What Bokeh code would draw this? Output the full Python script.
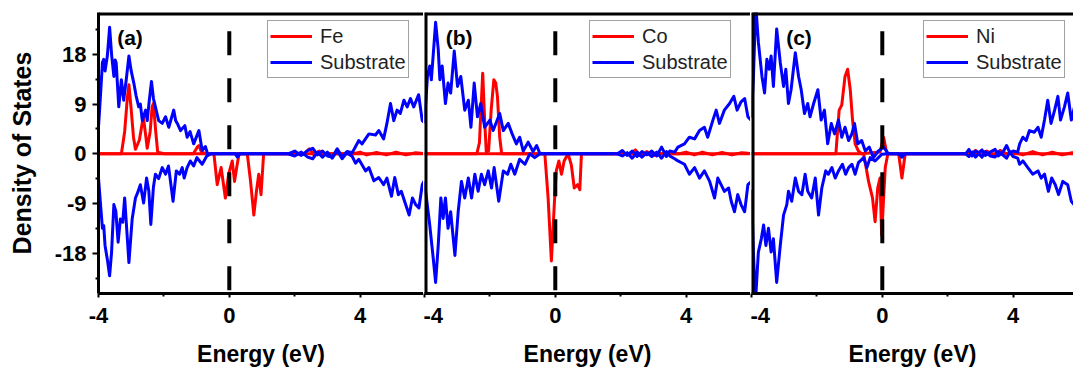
from bokeh.plotting import figure
from bokeh.layouts import row
from bokeh.models import FixedTicker, Legend, LegendItem, Span, Label, Range1d
from bokeh.embed import file_html
from bokeh.resources import INLINE

# ---------------- data (energy in eV, density of states) ----------------
energy_ticks = [-4, 0, 4]
energy_minor = [-2, 2]
dos_ticks = [-18, -9, 0, 9, 18]
dos_minor = [-22.5, -13.5, -4.5, 4.5, 13.5, 22.5]
metals = ["Fe", "Co", "Ni"]
panel_tags = ["(a)", "(b)", "(c)"]
fermi_level = 0.0

# Panel (a): Fe
sub_a_up = [(-4.00, 4.8), (-3.94, 10.5), (-3.88, 16.5), (-3.84, 17.1), (-3.80, 15.0), (-3.73, 17.7), (-3.66, 22.9),
            (-3.60, 18.0), (-3.53, 14.0), (-3.49, 17.0), (-3.46, 16.5), (-3.38, 8.5), (-3.30, 13.4), (-3.23, 9.7),
            (-3.15, 13.5), (-3.07, 17.7), (-3.00, 15.0), (-2.92, 12.8), (-2.85, 10.5), (-2.77, 8.5), (-2.72, 9.0),
            (-2.66, 6.0), (-2.56, 7.9), (-2.51, 6.0), (-2.45, 9.5), (-2.38, 13.1), (-2.32, 10.0), (-2.26, 8.5),
            (-2.16, 6.0), (-2.05, 5.5), (-1.95, 6.7), (-1.85, 4.8), (-1.70, 7.9), (-1.64, 6.0), (-1.59, 5.5),
            (-1.49, 4.2), (-1.36, 5.1), (-1.29, 3.0), (-1.20, 4.0), (-1.09, 1.8), (-0.93, 4.2), (-0.83, 0.6),
            (-0.73, 1.3), (-0.65, -0.3), (-0.58, 0.0), (1.80, 0.0), (2.00, 0.5), (2.20, -0.3), (2.40, 0.6),
            (2.55, 1.0), (2.70, -0.2), (2.85, 0.5), (3.00, -0.4), (3.15, -0.6), (3.30, 0.9), (3.45, -0.5),
            (3.60, 0.4), (3.76, 0.2), (3.96, 2.4), (4.06, 1.8), (4.27, 3.6), (4.47, 3.4), (4.57, 4.2), (4.72, 2.7),
            (4.82, 5.5), (4.93, 9.1), (5.03, 6.0), (5.13, 7.9), (5.23, 7.3), (5.34, 9.7), (5.44, 8.5), (5.54, 10.0),
            (5.64, 8.5), (5.79, 10.7), (5.90, 6.0), (6.00, 5.5)]
sub_a_dn = [(-4.00, -4.4), (-3.94, -9.0), (-3.88, -13.5), (-3.84, -13.0), (-3.80, -16.6), (-3.72, -19.5),
            (-3.66, -22.1), (-3.60, -17.8), (-3.53, -9.2), (-3.47, -10.4), (-3.40, -16.0), (-3.33, -11.8),
            (-3.26, -12.4), (-3.20, -8.0), (-3.07, -19.7), (-2.97, -11.8), (-2.87, -8.0), (-2.80, -7.0),
            (-2.72, -5.6), (-2.62, -8.9), (-2.53, -4.4), (-2.46, -6.8), (-2.40, -12.8), (-2.32, -6.0),
            (-2.26, -3.7), (-2.16, -4.5), (-2.05, -2.5), (-1.95, -3.7), (-1.86, -2.2), (-1.72, -8.6),
            (-1.62, -3.1), (-1.52, -3.7), (-1.44, -2.5), (-1.38, -4.4), (-1.29, -2.5), (-1.19, -1.3),
            (-1.09, -2.2), (-0.99, -0.7), (-0.83, -1.9), (-0.68, -0.3), (-0.58, 0.0), (0.18, 0.0), (0.25, -0.6),
            (0.32, 0.0), (1.80, 0.0), (2.00, -0.4), (2.20, 0.3), (2.40, -0.6), (2.55, -0.9), (2.70, 0.3),
            (2.85, -0.6), (3.00, 0.3), (3.15, -0.8), (3.30, 0.6), (3.45, -0.9), (3.60, 0.2), (3.76, -0.5),
            (3.86, -1.7), (3.96, -1.0), (4.17, -3.1), (4.27, -2.5), (4.42, -4.9), (4.57, -4.3), (4.72, -5.6),
            (4.82, -4.4), (4.96, -7.7), (5.06, -4.3), (5.17, -7.4), (5.26, -6.8), (5.36, -8.6), (5.50, -11.1),
            (5.60, -8.0), (5.70, -9.2), (5.80, -9.8), (5.90, -5.6), (6.00, -4.5)]
fe_up = [(-4.00, 0.0), (-3.30, 0.0), (-3.20, 4.0), (-3.12, 10.0), (-3.07, 12.5), (-3.00, 8.0), (-2.93, 3.0),
         (-2.87, 0.8), (-2.75, 2.5), (-2.63, 6.7), (-2.56, 3.5), (-2.51, 1.0), (-2.42, 4.0), (-2.36, 8.5),
         (-2.32, 9.1), (-2.25, 4.0), (-2.19, 0.3), (-2.00, 0.0), (-1.10, 0.0), (-0.98, 1.2), (-0.93, 1.5),
         (-0.85, 0.3), (-0.70, 0.0), (2.30, 0.0), (2.45, 0.9), (2.60, -0.3), (2.75, 0.5), (2.90, 0.0),
         (3.80, 0.0), (4.00, 0.3), (4.20, -0.2), (4.50, 0.25), (4.80, -0.2), (5.10, 0.3), (5.40, -0.2),
         (5.70, 0.2), (6.00, 0.0)]
fe_dn = [(-4.00, 0.0), (-0.47, 0.0), (-0.37, -5.6), (-0.25, -2.5), (-0.12, -8.0), (-0.02, -3.7), (0.09, -1.3),
         (0.16, -5.0), (0.24, -2.0), (0.30, 0.0), (0.55, 0.0), (0.65, -5.0), (0.75, -11.1), (0.83, -6.8),
         (0.90, -3.7), (0.97, -7.4), (1.05, 0.0), (6.00, 0.0)]

# Panel (b): Co
sub_b_up = [(-4.00, 5.5), (-3.91, 14.0), (-3.84, 15.9), (-3.79, 13.4), (-3.66, 23.8), (-3.58, 18.9), (-3.53, 13.4),
            (-3.46, 15.9), (-3.36, 9.1), (-3.28, 12.8), (-3.20, 11.0), (-3.09, 18.6), (-2.99, 12.2), (-2.89, 14.0),
            (-2.77, 7.9), (-2.66, 9.7), (-2.58, 4.8), (-2.48, 12.8), (-2.38, 6.7), (-2.28, 9.1), (-2.16, 4.8),
            (-2.00, 6.1), (-1.90, 4.2), (-1.70, 7.3), (-1.59, 4.2), (-1.44, 5.5), (-1.32, 3.6), (-1.19, 1.8),
            (-1.09, 3.0), (-0.98, 0.5), (-0.83, 2.1), (-0.68, 0.4), (-0.57, 1.5), (-0.47, 0.0), (1.90, 0.0),
            (2.05, 0.6), (2.20, -0.3), (2.35, 0.5), (2.50, -0.5), (2.65, 0.4), (2.80, -0.2), (2.95, 0.5),
            (3.10, -0.4), (3.25, 1.2), (3.40, -0.5), (3.50, 0.5), (3.65, 0.3), (3.75, 1.2), (3.95, 1.8),
            (4.10, 3.0), (4.26, 2.7), (4.41, 4.2), (4.56, 4.8), (4.66, 3.0), (4.82, 6.1), (4.92, 7.9), (5.02, 5.5),
            (5.17, 7.9), (5.33, 9.1), (5.46, 10.4), (5.56, 7.9), (5.68, 9.4), (5.79, 10.0), (5.89, 6.7),
            (6.00, 6.0)]
sub_b_dn = [(-4.00, -5.0), (-3.94, -8.0), (-3.84, -12.9), (-3.73, -19.1), (-3.66, -23.3), (-3.58, -16.6),
            (-3.50, -8.0), (-3.43, -11.7), (-3.36, -8.0), (-3.28, -13.5), (-3.20, -10.5), (-3.07, -18.4),
            (-2.97, -10.5), (-2.87, -5.0), (-2.77, -8.0), (-2.66, -4.4), (-2.56, -8.0), (-2.46, -3.7),
            (-2.36, -6.8), (-2.26, -3.7), (-2.16, -5.6), (-2.05, -3.1), (-1.95, -6.2), (-1.87, -2.5),
            (-1.73, -8.6), (-1.59, -3.1), (-1.46, -3.7), (-1.36, -1.9), (-1.24, -3.7), (-1.09, -1.0),
            (-0.93, -1.9), (-0.78, 0.0), (-0.63, -0.7), (-0.47, 0.0), (1.90, 0.0), (2.05, -0.4), (2.20, 0.2),
            (2.35, -0.8), (2.50, 0.3), (2.65, -0.6), (2.80, 0.2), (2.95, -0.5), (3.10, 0.3), (3.25, -0.8),
            (3.40, 0.4), (3.50, -0.4), (3.65, -0.9), (3.75, -1.3), (3.95, -1.9), (4.10, -3.7), (4.26, -2.5),
            (4.41, -4.4), (4.56, -3.1), (4.72, -5.0), (4.87, -8.0), (4.97, -4.4), (5.07, -5.6), (5.17, -6.8),
            (5.30, -6.2), (5.38, -8.6), (5.48, -10.5), (5.58, -7.4), (5.68, -9.2), (5.79, -10.5), (5.89, -5.6),
            (6.00, -5.0)]
co_up = [(-4.00, 0.0), (-2.40, 0.0), (-2.32, 2.0), (-2.22, 14.6), (-2.16, 6.0), (-2.11, 0.3), (-2.04, 0.5),
         (-1.96, 8.0), (-1.88, 13.4), (-1.82, 12.8), (-1.77, 10.4), (-1.70, 3.0), (-1.64, 0.0), (2.30, 0.0),
         (2.45, 0.7), (2.60, -0.3), (2.80, 0.4), (3.00, -0.3), (3.20, 0.0), (3.80, 0.0), (4.00, 0.3),
         (4.25, -0.2), (4.50, 0.3), (4.80, -0.2), (5.10, 0.25), (5.40, -0.2), (5.70, 0.2), (6.00, 0.0)]
co_dn = [(-4.00, 0.0), (-0.32, 0.0), (-0.22, -8.0), (-0.12, -19.4), (-0.02, -8.0), (0.03, -3.1), (0.11, -1.3),
         (0.19, -3.7), (0.27, -1.3), (0.39, 0.0), (0.49, -2.0), (0.58, -6.2), (0.68, -5.6), (0.75, -6.5),
         (0.80, 0.0), (6.00, 0.0)]

# Panel (c): Ni
sub_c_up = [(-4.00, 6.5), (-3.94, 14.0), (-3.87, 27.0), (-3.79, 20.2), (-3.68, 14.0), (-3.60, 11.0), (-3.53, 17.1),
            (-3.46, 15.3), (-3.40, 17.7), (-3.33, 12.2), (-3.23, 22.6), (-3.12, 16.5), (-3.02, 12.2), (-2.95, 15.3),
            (-2.87, 9.1), (-2.79, 11.6), (-2.66, 18.3), (-2.56, 14.0), (-2.48, 11.6), (-2.38, 7.3), (-2.28, 9.1),
            (-2.21, 6.7), (-2.10, 9.1), (-1.97, 11.6), (-1.87, 6.1), (-1.77, 7.9), (-1.67, 1.8), (-1.56, 5.5),
            (-1.46, 3.6), (-1.34, 6.1), (-1.24, 3.0), (-1.14, 4.8), (-1.03, 2.4), (-0.93, 3.6), (-0.85, 5.5),
            (-0.75, 1.8), (-0.63, 2.4), (-0.52, 0.5), (-0.40, 1.2), (-0.27, -0.7), (-0.12, 0.5), (0.04, 1.2),
            (0.19, 0.0), (2.55, 0.0), (2.65, 0.8), (2.75, -0.4), (2.85, 0.5), (2.95, 0.2), (3.05, 0.7),
            (3.15, -0.3), (3.30, 0.3), (3.45, 0.8), (3.55, -0.4), (3.70, 0.4), (3.80, 1.5), (3.90, 0.2),
            (4.00, 0.5), (4.14, 0.3), (4.20, 1.8), (4.30, 3.0), (4.40, 2.4), (4.50, 4.2), (4.65, 3.9), (4.76, 4.8),
            (4.86, 3.0), (4.96, 6.1), (5.06, 9.7), (5.16, 5.5), (5.27, 7.9), (5.37, 10.4), (5.45, 6.1),
            (5.57, 8.5), (5.67, 11.0), (5.78, 6.1), (5.90, 9.0), (6.00, 8.0)]
sub_c_dn = [(-4.00, -6.5), (-3.94, -18.0), (-3.88, -27.0), (-3.79, -17.8), (-3.70, -15.4), (-3.63, -12.9),
            (-3.56, -16.6), (-3.48, -13.5), (-3.40, -17.8), (-3.33, -15.4), (-3.23, -23.3), (-3.12, -16.6),
            (-3.02, -11.1), (-2.92, -9.2), (-2.87, -6.8), (-2.77, -8.6), (-2.66, -4.4), (-2.56, -6.8),
            (-2.46, -7.4), (-2.36, -3.7), (-2.28, -6.8), (-2.16, -8.0), (-2.05, -4.4), (-1.95, -11.1),
            (-1.85, -6.2), (-1.73, -3.1), (-1.65, -3.7), (-1.54, -2.5), (-1.44, -4.4), (-1.34, -3.1),
            (-1.22, -1.9), (-1.12, -3.7), (-1.03, -2.5), (-0.93, -1.9), (-0.83, -3.7), (-0.73, -1.6),
            (-0.57, -0.7), (-0.47, -2.5), (-0.37, -0.7), (-0.22, -1.3), (-0.02, -0.1), (0.19, 0.0), (0.50, 0.0),
            (0.60, -0.6), (0.70, 0.0), (2.55, 0.0), (2.65, -0.5), (2.75, 0.3), (2.85, -0.6), (2.95, 0.0),
            (3.05, -0.6), (3.15, 0.4), (3.30, -0.4), (3.45, -0.6), (3.55, 0.4), (3.70, -0.3), (3.80, -0.8),
            (3.90, 0.3), (4.00, -0.5), (4.14, -0.8), (4.20, -1.9), (4.30, -1.3), (4.45, -2.5), (4.60, -3.7),
            (4.76, -3.1), (4.86, -4.4), (4.96, -3.7), (5.08, -6.8), (5.18, -4.4), (5.29, -5.6), (5.39, -7.4),
            (5.52, -5.0), (5.67, -5.6), (5.78, -8.6), (5.90, -9.5), (6.00, -8.0)]
ni_up = [(-4.00, 0.0), (-1.42, 0.0), (-1.32, 7.9), (-1.24, 8.8), (-1.14, 14.0), (-1.06, 15.3), (-0.98, 11.6),
         (-0.91, 6.1), (-0.83, 1.8), (-0.73, 0.5), (-0.63, 0.0), (-0.07, 0.3), (0.04, 3.0), (0.14, 0.0),
         (2.70, 0.0), (2.85, 0.6), (3.00, -0.2), (3.20, 0.5), (3.40, -0.3), (3.60, 0.6), (3.80, 0.0),
         (4.00, 0.3), (4.30, -0.2), (4.60, 0.4), (4.90, -0.2), (5.20, 0.3), (5.50, -0.2), (5.80, 0.2),
         (6.00, 0.0)]
ni_dn = [(-4.00, 0.0), (-0.57, 0.0), (-0.42, -5.0), (-0.30, -8.0), (-0.22, -12.3), (-0.14, -6.2), (-0.07, -4.4),
         (-0.02, -14.8), (0.04, -8.0), (0.09, -2.5), (0.17, 0.0), (0.50, 0.0), (0.60, -4.4), (0.70, 0.0),
         (6.00, 0.0)]

substrate_up = [sub_a_up, sub_b_up, sub_c_up]
substrate_dn = [sub_a_dn, sub_b_dn, sub_c_dn]
metal_up = [fe_up, co_up, ni_up]
metal_dn = [fe_dn, co_dn, ni_dn]

# ---------------- styling ----------------
FONT = "Liberation Sans"
RED = "#ff0000"
BLUE = "#0000ff"
Y_LO, Y_HI = -25.3, 25.58
PX_PER_EV = 32.7
canvas_w = [423, 327, 323]
border_l = [98, 1, 1]
frame_w = [canvas_w[k] - border_l[k] for k in range(3)]
x_ends = [-4 + frame_w[k] / PX_PER_EV for k in range(3)]
legend_left = [169, 165, 172]
tag_x = [-3.43, -3.35, -2.94]


def split(pairs):
    return [a for a, _ in pairs], [b for _, b in pairs]


panels = []
for i in range(3):
    first = i == 0
    p = figure(width=canvas_w[i], height=369, x_range=Range1d(-4, x_ends[i]), y_range=Range1d(Y_LO, Y_HI),
               output_backend="svg", toolbar_location=None,
               y_axis_location="left" if first else None,
               min_border_top=12, min_border_bottom=76, min_border_right=0,
               min_border_left=border_l[i])
    p.grid.visible = False
    p.background_fill_color = "white"
    p.border_fill_color = "white"
    p.outline_line_color = None

    # curves
    x, y = split(metal_up[i])
    r_metal = p.line(x, y, line_color=RED, line_width=3, line_join="round")
    x, y = split(metal_dn[i])
    p.line(x, y, line_color=RED, line_width=3, line_join="round")
    x, y = split(substrate_up[i])
    r_sub = p.line(x, y, line_color=BLUE, line_width=3, line_join="round")
    x, y = split(substrate_dn[i])
    p.line(x, y, line_color=BLUE, line_width=3, line_join="round")

    # Fermi level
    p.segment(x0=[fermi_level], y0=[22.2], x1=[fermi_level], y1=[Y_LO],
              line_color="black", line_width=4, line_dash="24 23")

    # frame lines (top, and left separator); half of each is clipped by the frame
    p.add_layout(Span(location=Y_HI, dimension="width", line_color="black", line_width=6))
    if not first:
        p.add_layout(Span(location=-4, dimension="height", line_color="black", line_width=6))

    # axes
    xa = p.xaxis[0]
    xa.ticker = FixedTicker(ticks=energy_ticks, minor_ticks=energy_minor)
    xa.major_label_overrides = {t: str(t) for t in energy_ticks}
    xa.axis_label = "Energy (eV)"
    xa.axis_label_text_font = FONT
    xa.axis_label_text_font_style = "bold"
    xa.axis_label_text_font_size = "23px"
    xa.axis_label_text_color = "black"
    xa.axis_label_standoff = 15
    xa.major_label_text_font = FONT
    xa.major_label_text_font_style = "bold"
    xa.major_label_text_font_size = "22px"
    xa.major_label_text_color = "black"
    xa.major_label_standoff = 10
    xa.axis_line_width = 3
    xa.major_tick_line_width = 2
    xa.minor_tick_line_width = 2
    xa.major_tick_in = 0
    xa.major_tick_out = 4
    xa.minor_tick_in = 0
    xa.minor_tick_out = 3

    if first:
        ya = p.yaxis[0]
        ya.ticker = FixedTicker(ticks=dos_ticks, minor_ticks=dos_minor)
        ya.major_label_overrides = {t: str(t) for t in dos_ticks}
        ya.axis_label = "Density of States"
        ya.axis_label_text_font = FONT
        ya.axis_label_text_font_style = "bold"
        ya.axis_label_text_font_size = "25px"
        ya.axis_label_text_color = "black"
        ya.axis_label_standoff = 16
        ya.major_label_text_font = FONT
        ya.major_label_text_font_style = "bold"
        ya.major_label_text_font_size = "22px"
        ya.major_label_text_color = "black"
        ya.major_label_standoff = 6
        ya.axis_line_width = 3
        ya.major_tick_line_width = 2
        ya.minor_tick_line_width = 2
        ya.major_tick_in = 0
        ya.major_tick_out = 6
        ya.minor_tick_in = 0
        ya.minor_tick_out = 3

    # panel tag
    p.add_layout(Label(x=tag_x[i], y=21.0, text=panel_tags[i], text_font=FONT, text_font_style="bold",
                       text_font_size="21px", text_baseline="middle", text_align="left", text_color="black"))

    # legend
    legend = Legend(items=[LegendItem(label=metals[i], renderers=[r_metal]),
                           LegendItem(label="Substrate", renderers=[r_sub])],
                    location=(legend_left[i], 215), orientation="vertical",
                    label_text_font=FONT, label_text_font_size="20px", label_text_color="#222222",
                    glyph_width=42, glyph_height=26, label_height=26, label_standoff=8,
                    padding=2, spacing=0, margin=0,
                    border_line_color="#444444", border_line_width=1,
                    background_fill_color="white", background_fill_alpha=1.0)
    p.add_layout(legend, "center")
    panels.append(p)

layout = row(*panels, spacing=0)
open("out.html", "w").write(file_html(layout, INLINE))
